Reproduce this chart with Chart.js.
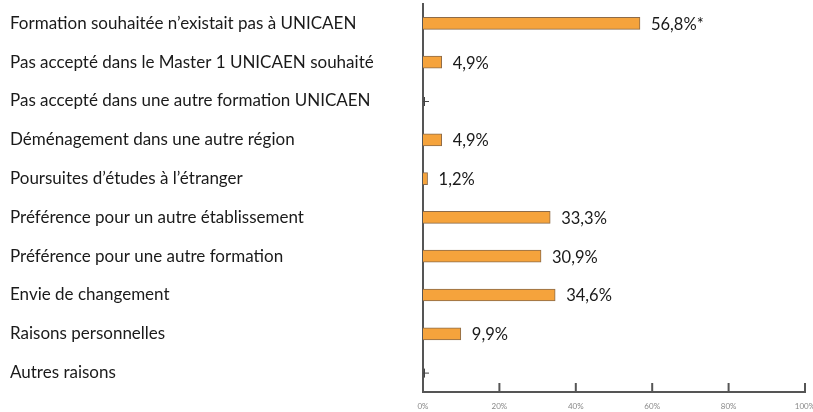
<!DOCTYPE html>
<html>
<head>
<meta charset="utf-8">
<script src="https://cdn.jsdelivr.net/npm/chart.js@4.4.0/dist/chart.umd.min.js"></script>
<style>
  html, body { margin: 0; padding: 0; background: #fff; }
  #wrap { width: 813px; height: 412px; }
</style>
</head>
<body>
<div id="wrap"><canvas id="myChart"></canvas></div>
<script>
// raisons du choix d'une autre formation
const categories = [
  'Formation souhaitée n\u2019existait pas à UNICAEN',
  'Pas accepté dans le Master 1 UNICAEN souhaité',
  'Pas accepté dans une autre formation UNICAEN',
  'Déménagement dans une autre région',
  'Poursuites d\u2019études à l\u2019étranger',
  'Préférence pour un autre établissement',
  'Préférence pour une autre formation',
  'Envie de changement',
  'Raisons personnelles',
  'Autres raisons'
];
const values = [56.8, 4.9, 0, 4.9, 1.2, 33.3, 30.9, 34.6, 9.9, 0];
const notes = ['*', '', '', '', '', '', '', '', '', ''];
const xTicks = [0, 20, 40, 60, 80, 100];

const FONT = 'Lato, "Noto Sans", sans-serif';
const fmt = v => v.toFixed(1).replace('.', ',') + '%';

// value labels + zero markers + upward ticks
const extras = {
  id: 'extras',
  afterDatasetsDraw(chart) {
    const ctx = chart.ctx;
    const meta = chart.getDatasetMeta(0);
    const xs = chart.scales.x;
    ctx.save();
    ctx.font = '16.5px ' + FONT;
    ctx.fillStyle = '#1a1a1a';
    ctx.textBaseline = 'middle';
    meta.data.forEach((bar, i) => {
      if (values[i] > 0) {
        ctx.fillText(fmt(values[i]) + notes[i], bar.x + 11, bar.y + 1);
      } else {
        ctx.strokeStyle = '#444';
        ctx.lineWidth = 1;
        ctx.beginPath();
        ctx.moveTo(xs.left, bar.y + 0.5);
        ctx.lineTo(xs.left + 6, bar.y + 0.5);
        ctx.moveTo(xs.left + 1.5, bar.y - 4);
        ctx.lineTo(xs.left + 1.5, bar.y + 5);
        ctx.stroke();
      }
    });
    // tick marks pointing up from the x axis
    ctx.strokeStyle = '#555';
    ctx.lineWidth = 2;
    const yb = chart.chartArea.bottom;
    xTicks.forEach(t => {
      if (t === 0) return;
      const px = xs.getPixelForValue(t);
      ctx.beginPath();
      ctx.moveTo(px, yb);
      ctx.lineTo(px, yb - 9);
      ctx.stroke();
    });
    ctx.restore();
  }
};

const data = {
  labels: categories,
  datasets: [{
    data: values,
    backgroundColor: '#f5a33c',
    borderColor: '#8d6b48',
    borderWidth: 1,
    barThickness: 12
  }]
};

const config = {
  type: 'bar',
  data: data,
  options: {
    indexAxis: 'y',
    responsive: true,
    maintainAspectRatio: false,
    animation: false,
    layout: { autoPadding: false, padding: { left: 10, right: 8, top: 4, bottom: 0 } },
    plugins: { legend: { display: false }, tooltip: { enabled: false } },
    scales: {
      x: {
        min: 0,
        max: 100,
        afterBuildTicks: s => { s.ticks = xTicks.map(v => ({ value: v })); },
        grid: { display: false, drawTicks: false },
        border: { display: true, color: '#555', width: 2 },
        ticks: {
          padding: 10,
          color: '#888',
          font: { size: 8, family: FONT },
          callback: v => v + '%',
          maxRotation: 0
        },
        afterFit: s => { s.height = 20; s.paddingLeft = 0; s.paddingRight = 0; }
      },
      y: {
        grid: { display: false, drawTicks: false },
        border: { display: true, color: '#555', width: 2 },
        ticks: {
          crossAlign: 'far',
          color: '#1a1a1a',
          padding: 0,
          font: { size: 17, family: FONT }
        },
        afterFit: s => { s.width = 413; s.paddingTop = 0; s.paddingBottom = 0; }
      }
    }
  },
  plugins: [extras]
};

const myChart = new Chart(document.getElementById('myChart'), config);
</script>
</body>
</html>
